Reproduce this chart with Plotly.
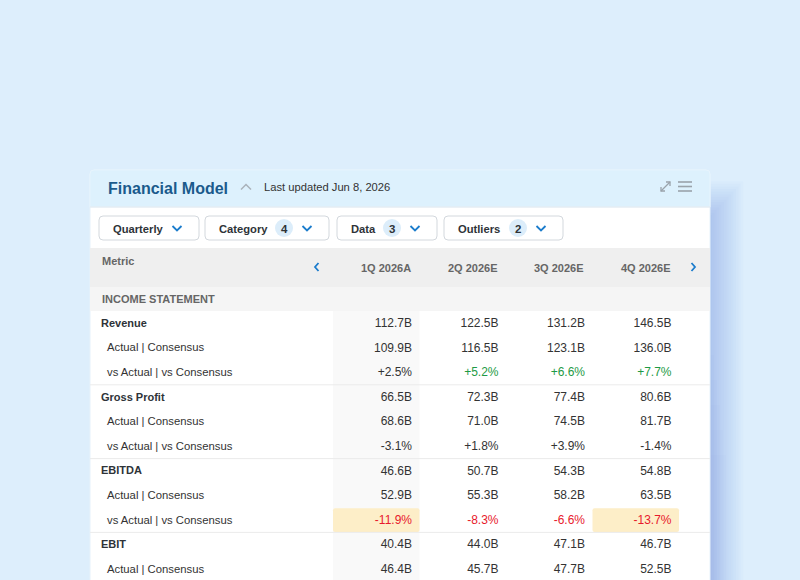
import plotly.graph_objects as go

# ---- data ----
periods = ["1Q 2026A", "2Q 2026E", "3Q 2026E", "4Q 2026E"]

revenue = [112.7, 122.5, 131.2, 146.5]
revenue_consensus = [109.9, 116.5, 123.1, 136.0]
revenue_vs = [2.5, 5.2, 6.6, 7.7]

gross_profit = [66.5, 72.3, 77.4, 80.6]
gross_profit_consensus = [68.6, 71.0, 74.5, 81.7]
gross_profit_vs = [-3.1, 1.8, 3.9, -1.4]

ebitda = [46.6, 50.7, 54.3, 54.8]
ebitda_consensus = [52.9, 55.3, 58.2, 63.5]
ebitda_vs = [-11.9, -8.3, -6.6, -13.7]

ebit = [40.4, 44.0, 47.1, 46.7]
ebit_consensus = [46.4, 45.7, 47.7, 52.5]

filters = ["Quarterly", "Category", "Data", "Outliers"]
filter_counts = [None, 4, 3, 2]

# ---- layout constants (pixels) ----
W, H = 800, 580
CARD_X0, CARD_X1, CARD_Y0 = 90, 710, 170
HEAD_Y1 = 207
TOOL_Y1 = 248
COLHEAD_Y1 = 287
SECTION_Y1 = 311
ROW_H = 24.6
METRIC_X1 = 333
COL_W = 86.5
FONT = "Liberation Sans, Arial, sans-serif"
TXT = "#333333"
GREY = "#666666"
BLUE = "#1b7ccc"
GREEN = "#1e9a45"
RED = "#e8192c"

shapes = []
annotations = []


def rrect(x0, y0, x1, y1, r):
    return (f"M {x0 + r},{y0} L {x1 - r},{y0} Q {x1},{y0} {x1},{y0 + r} "
            f"L {x1},{y1 - r} Q {x1},{y1} {x1 - r},{y1} L {x0 + r},{y1} "
            f"Q {x0},{y1} {x0},{y1 - r} L {x0},{y0 + r} Q {x0},{y0} {x0 + r},{y0} Z")


def rect(x0, y0, x1, y1, fill):
    shapes.append(dict(type="rect", xref="x", yref="y", x0=x0, y0=y0, x1=x1, y1=y1,
                       fillcolor=fill, line=dict(width=0), layer="below"))


def path(d, color, width=1.6):
    shapes.append(dict(type="path", xref="x", yref="y", path=d,
                       fillcolor="rgba(0,0,0,0)", line=dict(color=color, width=width)))


def hline(y, x0, x1, color):
    shapes.append(dict(type="line", xref="x", yref="y", x0=x0, x1=x1, y0=y, y1=y,
                       line=dict(color=color, width=1)))


def label(x, y, text, size=12, color=TXT, bold=False, anchor="left"):
    annotations.append(dict(x=x, y=y, xref="x", yref="y", text=f"<b>{text}</b>" if bold else text,
                            showarrow=False, xanchor=anchor, yanchor="middle",
                            font=dict(family=FONT, size=size, color=color)))


# soft shadow on the right of the card, growing stronger further down
for k in range(14):
    shapes.append(dict(type="rect", xref="x", yref="y", x0=120, x1=712 + 2.4 * k,
                       y0=215 - 2.6 * k, y1=700, fillcolor="rgba(60,110,190,0.02)",
                       line=dict(width=0), layer="below"))
for k in range(6):
    shapes.append(dict(type="rect", xref="x", yref="y", x0=120, x1=711 + 3 * k,
                       y0=330 + 25 * k, y1=700, fillcolor="rgba(60,110,190,0.012)",
                       line=dict(width=0), layer="below"))

# card
shapes.append(dict(type="path", xref="x", yref="y", layer="below",
                   path=rrect(CARD_X0, CARD_Y0, CARD_X1, 640, 4),
                   fillcolor="#ffffff", line=dict(color="#e6f2fb", width=1)))
shapes.append(dict(type="path", xref="x", yref="y", layer="below",
                   path=(f"M {CARD_X0},{HEAD_Y1} L {CARD_X0},{CARD_Y0 + 4} Q {CARD_X0},{CARD_Y0} "
                         f"{CARD_X0 + 4},{CARD_Y0} L {CARD_X1 - 4},{CARD_Y0} Q {CARD_X1},{CARD_Y0} "
                         f"{CARD_X1},{CARD_Y0 + 4} L {CARD_X1},{HEAD_Y1} Z"),
                   fillcolor="#ddf1fd", line=dict(color="#e6f4fd", width=1)))
hline(HEAD_Y1, CARD_X0, CARD_X1, "#e3e9ee")
rect(CARD_X0, TOOL_Y1, CARD_X1, COLHEAD_Y1, "#efefef")
rect(CARD_X0, COLHEAD_Y1, CARD_X1, SECTION_Y1, "#f5f5f5")
rect(METRIC_X1, SECTION_Y1, METRIC_X1 + COL_W, 640, "#f9f9f9")

# header
label(106, 188, "Financial Model", size=16, color="#1a5a8c", bold=True)
path("M 241,189.5 L 246,184.5 L 251,189.5", "#a9b2ba", 1.5)
label(262, 187, "Last updated Jun 8, 2026", size=11.2, color=TXT)
# expand + menu icons
path("M 661,191 L 670,182", "#9aa3ab", 1.3)
path("M 666,182 L 670,182 L 670,186", "#9aa3ab", 1.3)
path("M 661,187 L 661,191 L 665,191", "#9aa3ab", 1.3)
for y in (182, 186.5, 191):
    path(f"M 678,{y} L 692,{y}", "#9aa3ab", 1.6)

# filter buttons
btn_x = [(99, 199), (205, 329), (337, 437), (444, 563)]
for (x0, x1), name, count in zip(btn_x, filters, filter_counts):
    shapes.append(dict(type="path", xref="x", yref="y", path=rrect(x0, 216, x1, 240, 4),
                       fillcolor="#ffffff", line=dict(color="#d3d8dd", width=1)))
    label(x0 + 12, 228.5, name, size=11.2, color="#2e3338", bold=True)
    cx = x1 - 22
    path(f"M {cx - 4.5},{226} L {cx},{230.5} L {cx + 4.5},{226}", BLUE, 1.8)
    if count is not None:
        bx = x1 - 45
        shapes.append(dict(type="circle", xref="x", yref="y", x0=bx - 9, x1=bx + 9, y0=219, y1=237,
                           fillcolor="#dcedfa", line=dict(width=0)))
        label(bx, 228.5, str(count), size=11.5, color="#2e3338", bold=True, anchor="center")

# column header row
label(100, 261, "Metric", size=11, color=GREY, bold=True)
path("M 318.5,263 L 315,267 L 318.5,271", BLUE, 1.8)
path("M 691.5,263 L 695,267 L 691.5,271", BLUE, 1.8)
col_right = [METRIC_X1 + COL_W * (i + 1) - 7.5 for i in range(len(periods))]
for x, p in zip(col_right, periods):
    label(x + 1, 267.5, p, size=11, color=GREY, bold=True, anchor="right")
label(100, 299, "INCOME STATEMENT", size=11, color=GREY, bold=True)

# ---- table body ----
groups = [
    ("Revenue", revenue, revenue_consensus, revenue_vs),
    ("Gross Profit", gross_profit, gross_profit_consensus, gross_profit_vs),
    ("EBITDA", ebitda, ebitda_consensus, ebitda_vs),
    ("EBIT", ebit, ebit_consensus, None),
]

rows = []
for name, est, cons, vs in groups:
    rows.append((name, True, [f"{v:.1f}B" for v in est], [TXT] * 4, [False] * 4))
    rows.append(("Actual | Consensus", False, [f"{v:.1f}B" for v in cons], [TXT] * 4, [False] * 4))
    if vs is not None:
        colors = [GREEN if v >= 5 else RED if v <= -5 else TXT for v in vs]
        rows.append(("vs Actual | vs Consensus", False, [f"{v:+.1f}%" for v in vs],
                     colors, [abs(v) >= 10 for v in vs]))

lab_x, lab_y, lab_t = [], [], []
grp_x, grp_y, grp_t = [], [], []
val_x, val_y, val_t, val_c = [], [], [], []
for i, (name, is_group, texts, colors, flags) in enumerate(rows):
    y0 = SECTION_Y1 + ROW_H * i
    yc = y0 + 13
    if is_group:
        grp_x.append(101); grp_y.append(yc); grp_t.append(f"<b>{name}</b>")
        if i > 0:
            hline(y0, CARD_X0, CARD_X1, "#ebebeb")
    else:
        lab_x.append(107); lab_y.append(yc); lab_t.append(name)
    for j, (t, c, f) in enumerate(zip(texts, colors, flags)):
        if f:
            xa = METRIC_X1 + COL_W * j
            shapes.append(dict(type="path", xref="x", yref="y", layer="below",
                               path=rrect(xa, y0 + 0.5, xa + COL_W, y0 + ROW_H - 0.5, 2),
                               fillcolor="#fdeec8", line=dict(width=0)))
        val_x.append(col_right[j]); val_y.append(yc); val_t.append(t); val_c.append(c)

fig = go.Figure()
fig.add_trace(go.Scatter(x=grp_x, y=grp_y, text=grp_t, mode="text", textposition="middle right",
                         textfont=dict(family=FONT, size=11, color="#2e3338"), hoverinfo="skip"))
fig.add_trace(go.Scatter(x=lab_x, y=lab_y, text=lab_t, mode="text", textposition="middle right",
                         textfont=dict(family=FONT, size=11.3, color=TXT), hoverinfo="skip"))
fig.add_trace(go.Scatter(x=val_x, y=val_y, text=val_t, mode="text", textposition="middle left",
                         textfont=dict(family=FONT, size=12, color=val_c), hoverinfo="skip"))

fig.update_layout(
    width=W, height=H, margin=dict(l=0, r=0, t=0, b=0),
    paper_bgcolor="#ddeefc", plot_bgcolor="rgba(0,0,0,0)",
    showlegend=False, shapes=shapes, annotations=annotations,
    xaxis=dict(range=[0, W], visible=False, fixedrange=True),
    yaxis=dict(range=[H, 0], visible=False, fixedrange=True),
)
fig.write_html("out.html", config={"displayModeBar": False},
               post_script="document.body.style.margin='0';")
